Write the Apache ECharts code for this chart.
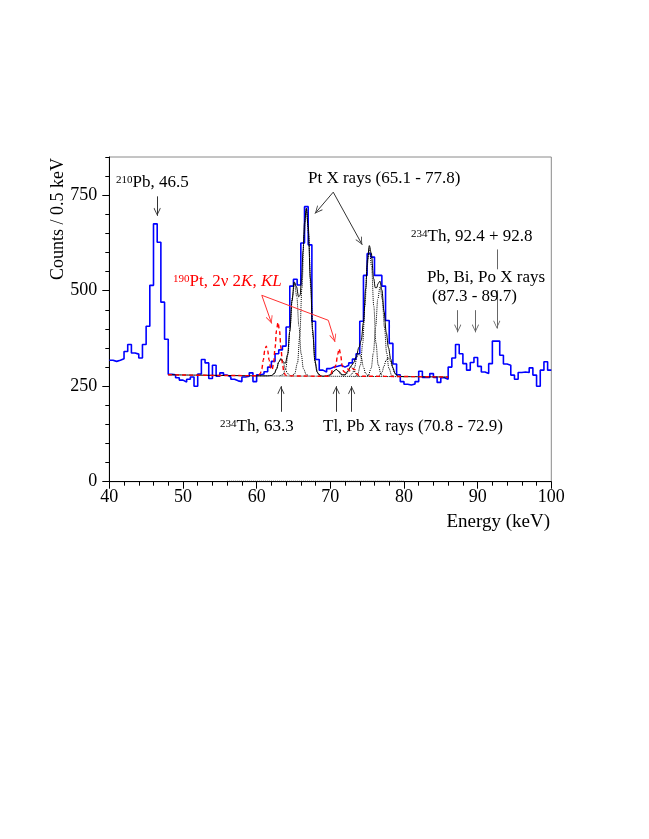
<!DOCTYPE html>
<html><head><meta charset="utf-8">
<script src="https://cdn.jsdelivr.net/npm/echarts@6/dist/echarts.min.js"></script>
<style>html,body{margin:0;padding:0;background:#fff}#c{width:649px;height:839px}</style>
</head><body><div id="c"></div>
<script>
// ---------- data ----------
const binStart = 40, binWidth = 0.5;
// counts per 0.5 keV bin, bins starting at 40.0, 40.5, ... 99.5
const counts = [
 318,315,318,322,341,359,337,334,324,359,   // 40.0 - 44.5
 407,514,675,627,470,373,281,280,272,266,   // 45.0 - 49.5
 261,268,274,250,282,320,311,270,305,276,   // 50.0 - 54.5
 285,279,274,268,264,262,274,276,285,262,   // 55.0 - 59.5
 280,282,288,300,315,335,345,355,405,512,   // 60.0 - 64.5
 530,515,625,720,620,420,320,292,287,296,   // 65.0 - 69.5
 300,302,305,300,305,311,321,335,420,540,   // 70.0 - 74.5
 597,588,540,540,512,422,362,308,280,262,   // 75.0 - 79.5
 255,253,256,262,289,273,273,283,273,260,   // 80.0 - 84.5
 272,268,300,324,359,335,309,292,312,325,   // 85.0 - 89.5
 302,287,283,309,368,368,331,308,305,279,   // 90.0 - 94.5
 268,286,287,286,298,279,250,292,314,292    // 95.0 - 99.5
];
// total fit (black solid)
const fitCurve = [[48,280],[52,279],[56,278],[60,277],[61.5,277],[62.0,278],[62.4,283],[62.7,295],[63.0,313],[63.3,322],[63.6,314],[63.9,310],[64.2,332],[64.5,393],[64.8,473],[65.1,523],[65.4,511],[65.7,484],[65.9,488],[66.1,531],[66.3,604],[66.5,677],[66.75,716],[67.0,668],[67.3,532],[67.6,397],[67.9,318],[68.2,287],[68.6,278],[69.0,276],[69.5,277],[70.0,280],[70.4,288],[70.8,294],[71.2,288],[71.6,280],[72.0,280],[72.4,290],[72.85,304],[73.2,312],[73.5,327],[73.9,352],[74.2,370],[74.5,417],[74.8,505],[75.05,581],[75.3,618],[75.55,599],[75.9,531],[76.1,508],[76.3,508],[76.5,519],[76.75,525],[77.0,502],[77.3,445],[77.6,390],[77.9,351],[78.2,321],[78.5,298],[78.8,283],[79.2,276],[80,275],[86,274]];
// fit components (black dotted)
const gTh633 = [[62.0,277],[62.4,283],[62.7,295],[63.0,313],[63.3,322],[63.6,313],[63.9,295],[64.2,283],[64.6,277]];
const gPtKa2 = [[63.15,277],[63.55,280],[63.95,296],[64.25,334],[64.55,405],[64.85,484],[65.15,520],[65.45,484],[65.75,405],[66.05,334],[66.35,296],[66.75,280],[67.15,277]];
const gPtKa1 = [[64.75,277],[65.15,282],[65.55,311],[65.85,380],[66.15,507],[66.45,648],[66.75,713],[67.05,648],[67.35,507],[67.65,380],[67.95,311],[68.35,282],[68.75,277]];
const gTl708 = [[69.8,276],[70.2,281],[70.5,290],[70.8,294],[71.1,290],[71.4,281],[71.8,276]];
const gPb729 = [[71.85,276],[72.25,283],[72.55,296],[72.85,301],[73.15,296],[73.45,283],[73.85,276]];
const gX739 = [[72.6,276],[73.0,283],[73.3,300],[73.6,325],[73.9,337],[74.2,325],[74.5,300],[74.8,283],[75.2,276]];
const gPtKb1 = [[73.3,275],[73.7,280],[74.1,306],[74.4,363],[74.7,460],[75.0,564],[75.3,610],[75.6,564],[75.9,460],[76.2,363],[76.5,306],[76.9,280],[77.3,275]];
const gPtKb3 = [[74.75,275],[75.15,278],[75.55,297],[75.85,337],[76.15,405],[76.45,478],[76.75,510],[77.05,478],[77.35,405],[77.65,337],[77.95,297],[78.35,278],[78.75,275]];
const gPtKb2 = [[76.6,276],[77.0,285],[77.3,303],[77.55,317],[77.85,325],[78.15,317],[78.4,303],[78.7,285],[79.1,276]];
const baseLine = [[60,277],[80,275]];
// 190Pt 2v2K, KL expected peaks (red dashed)
const redCurve = [[48,280],[56,278],[60.2,277.5],[60.5,283],[60.7,295],[60.9,318],[61.1,343],[61.3,355],[61.5,343],[61.7,318],[61.9,297],[62.1,293],[62.3,310],[62.5,350],[62.7,396],[62.9,417],[63.1,396],[63.3,350],[63.5,310],[63.7,287],[63.9,279],[64.2,277],[69.6,276],[70.0,279],[70.3,292],[70.55,298],[70.75,305],[71.0,333],[71.2,348],[71.4,333],[71.6,305],[71.8,289],[72.0,286],[72.2,292],[72.4,295],[72.6,290],[72.8,289],[73.05,296],[73.3,294],[73.6,283],[73.9,277],[74.3,276],[86,274]];
const zeroDotted = [[56,3],[80,3]];
const yTickValues = [0,250,500,750];

// annotation arrows (energy keV, counts)
const arrowsBlack = [
  [[46.5,747],[46.5,696]],
  [[70.4,758],[67.92,702]],
  [[70.4,758],[74.34,620]],
  [[63.3,183],[63.3,250]],
  [[70.8,183],[70.8,250]],
  [[72.9,183],[72.9,250]]
];
const arrowsGray = [
  [[87.3,449],[87.3,391]],
  [[89.7,449],[89.7,391]],
  [[92.6,501],[92.6,401]]
];
const linesGray = [[[92.6,608],[92.6,556]]];
const arrowsRed = [
  [[60.7,488],[62.04,414]],
  [[69.73,422.5],[70.64,366]]
];
const linesRed = [[[60.7,488],[69.73,422.5]]];

// ---------- chart ----------
const FONT = 'Liberation Serif, Times New Roman, serif';
const ARROW = 'path://M5,0L5.01,0.01L5,0.02ZM5,8L10,15.4L9.1,16L5,9.8L0.9,16L0,15.4Z';
const histData = counts.map((v,i)=>[binStart+i*binWidth, v]);
histData.push([binStart+counts.length*binWidth, counts[counts.length-1]]);

function mk(list, sym){
  return list.map(s=>[{coord:s[0], symbol:'none'},{coord:s[1], symbol: sym}]);
}
function curve(data, color, type, width, z){
  return {type:'line', data:data, showSymbol:false, symbol:'none', smooth:0.35, smoothMonotone:'x',
    lineStyle:{color:color, width:width, type:type}, z:z, silent:true, clip:true};
}
function annot(list, color, sym){
  return {type:'line', data:[], silent:true, z:10,
    markLine:{silent:true, animation:false, symbol:['none', sym], symbolSize:[7,16],
      label:{show:false}, emphasis:{disabled:true},
      lineStyle:{color:color, width:1, type:'solid'}, data: mk(list, sym)}};
}

const chart = echarts.init(document.getElementById('c'), null, {renderer:'canvas'});
const sup = {fontSize:11, fontFamily:FONT, verticalAlign:'top', fill:'#000'};
const nrm = {fontSize:17, fontFamily:FONT, fill:'#000'};
function txt(x,y,text,rich){
  return {type:'text', x:x, y:y, silent:true, z:20,
    style:{text:text, rich:rich, verticalAlign:'middle', align:'left', font:'17px '+FONT, fill:'#000'}};
}
chart.setOption({
  animation:false,
  backgroundColor:'#fff',
  grid:{left:109.3, right:97.7, top:157, bottom:357.3, show:true, borderColor:'#8a8a8a', borderWidth:1, backgroundColor:'transparent'},
  xAxis:{type:'value', min:40, max:100, interval:10,
    axisLine:{show:true, onZero:false, lineStyle:{color:'#000', width:1}},
    axisTick:{show:true, inside:false, length:7, lineStyle:{color:'#000'}},
    minorTick:{show:true, splitNumber:5, length:4, lineStyle:{color:'#000'}},
    axisLabel:{fontFamily:FONT, fontSize:18, color:'#000', margin:7},
    splitLine:{show:false}, minorSplitLine:{show:false}},
  yAxis:[
    {type:'value', min:0, max:850, interval:250,
     axisLine:{show:true, lineStyle:{color:'#000', width:1}},
     axisTick:{show:true, inside:false, length:7, customValues:yTickValues, lineStyle:{color:'#000'}},
     axisLabel:{fontFamily:FONT, fontSize:18, color:'#000', margin:12, customValues:yTickValues},
     splitLine:{show:false}},
    {type:'value', min:0, max:850, interval:50, position:'left', offset:0,
     axisLine:{show:false}, axisTick:{show:true, inside:false, length:4, lineStyle:{color:'#000'}},
     axisLabel:{show:false}, splitLine:{show:false}}
  ],
  series:[
    {type:'line', data:histData, step:'end', showSymbol:false, symbol:'none',
     lineStyle:{color:'#0000ff', width:1.6}, z:2, silent:true},
    curve(zeroDotted,'#bbbbbb','dotted',1,3),
    curve(baseLine,'#000','dotted',1,3),
    curve(gTh633,'#000','dotted',1,3),
    curve(gPtKa2,'#000','dotted',1,3),
    curve(gPtKa1,'#000','dotted',1,3),
    curve(gTl708,'#000','dotted',1,3),
    curve(gPb729,'#000','dotted',1,3),
    curve(gX739,'#000','dotted',1,3),
    curve(gPtKb1,'#000','dotted',1,3),
    curve(gPtKb3,'#000','dotted',1,3),
    curve(gPtKb2,'#000','dotted',1,3),
    curve(fitCurve,'#000','solid',1,4),
    curve(redCurve,'#ff0000',[4,3],1.4,5),
    annot(arrowsBlack,'#333', ARROW),
    annot(arrowsGray,'#666', ARROW),
    annot(linesGray,'#666', 'none'),
    annot(arrowsRed,'#ff3030', ARROW),
    annot(linesRed,'#ff3030', 'none')
  ],
  graphic:[
    txt(116,183,'{s|210}{n|Pb, 46.5}',{s:sup,n:nrm}),
    txt(308,179,'{n|Pt X rays (65.1 - 77.8)}',{n:nrm}),
    txt(411,237,'{s|234}{n|Th, 92.4 + 92.8}',{s:sup,n:nrm}),
    txt(427,278,'{n|Pb, Bi, Po X rays}',{n:nrm}),
    txt(432,297,'{n|(87.3 - 89.7)}',{n:nrm}),
    txt(220,427,'{s|234}{n|Th, 63.3}',{s:sup,n:nrm}),
    txt(323,427,'{n|Tl, Pb X rays (70.8 - 72.9)}',{n:nrm}),
    txt(173,282,'{s|190}{n|Pt, 2ν 2}{i|K}{n|, }{i|KL}',{
      s:Object.assign({},sup,{fill:'#ff0000'}),
      n:Object.assign({},nrm,{fill:'#ff0000'}),
      i:Object.assign({},nrm,{fill:'#ff0000', fontStyle:'italic'})}),
    {type:'text', x:550, y:522, silent:true, style:{text:'Energy (keV)', font:'19px '+FONT, fill:'#000', align:'right', verticalAlign:'middle'}},
    {type:'text', x:58, y:158, rotation:Math.PI/2, silent:true, style:{text:'Counts / 0.5 keV', font:'18px '+FONT, fill:'#000', align:'right', verticalAlign:'middle'}}
  ]
});
</script></body></html>
